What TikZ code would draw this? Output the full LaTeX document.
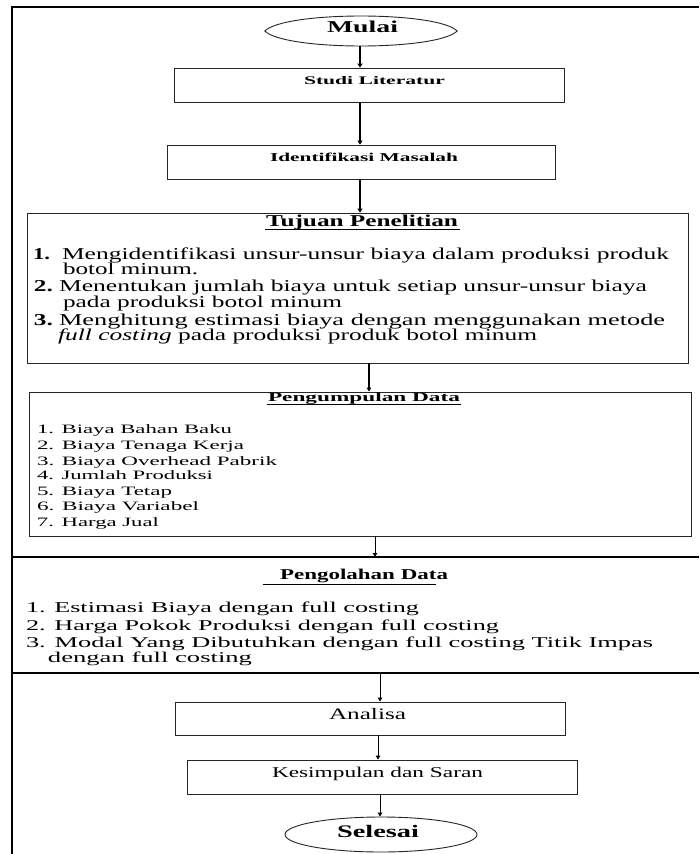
\documentclass[tikz,border=0pt]{standalone}
\usepackage{fontspec}
\setmainfont{Liberation Serif}
\usepackage{graphicx}
\usetikzlibrary{arrows.meta,shapes.geometric}
\newcommand{\sz}[3]{{\fontsize{#1pt}{#1pt}\selectfont\resizebox{#2pt}{\height}{#3}}}
\begin{document}
\begin{tikzpicture}[x=1pt,y=-1pt,
  boxs/.style={draw=black!85, line width=0.9pt, inner sep=0pt},
  ovals/.style={ellipse, draw=black!85, line width=0.9pt, inner sep=0pt},
  lemon/.style={draw=black!85, line width=0.9pt},
  txt/.style={anchor=base west, inner sep=0pt, outer sep=0pt},
  arrthick/.style={line width=2pt, -{Triangle[width=5pt,length=4pt]}},
  arrthin/.style={line width=1pt, -{Triangle[width=4.5pt,length=4pt]}},
  sepline/.style={line width=2.4pt},
  frameline/.style={line width=1.2pt},
  uline/.style={line width=1pt}]
\useasboundingbox (0,0) rectangle (699,854);
\fill[white] (0,0) rectangle (699,854);

% frame and separators
\coordinate (topL) at (11,7);
\coordinate (topR) at (699,7);
\coordinate (botL) at (12,854);
\coordinate (s1L) at (12,557);
\coordinate (s1R) at (699,557);
\coordinate (s2L) at (12,673);
\coordinate (s2R) at (699,673);
\draw[sepline] (topL) -- (topR);
\draw[frameline] (12,7) -- (botL);
\draw[sepline] (s1L) -- (s1R);
\draw[sepline] (s2L) -- (s2R);

% shapes
\node[minimum width=192pt, minimum height=30pt, inner sep=0pt] (mulai) at (361,31) {};
\draw[lemon] (mulai.west) .. controls (285,11) and (437,11) .. (mulai.east)
  .. controls (437,51) and (285,51) .. (mulai.west) -- cycle;
\node[boxs, minimum width=390pt, minimum height=34pt] (studi) at (369,85) {};
\node[boxs, minimum width=388pt, minimum height=34pt] (ident) at (361,162) {};
\node[boxs, minimum width=661pt, minimum height=150pt] (tujuan) at (357.5,288) {};
\node[boxs, minimum width=662pt, minimum height=144pt] (peng) at (360,464) {};
\node[boxs, minimum width=390pt, minimum height=33pt] (analisa) at (370.5,718.5) {};
\node[boxs, minimum width=390pt, minimum height=34pt] (kesimp) at (382,777) {};
\node[ovals, minimum width=192pt, minimum height=35pt] (selesai) at (381,834.5) {};

% texts
\node[txt] (mulaiT) at (327,32.5) {\sz{16.6}{71}{\textbf{Mulai}}};
\node[txt] (studiT) at (304,84) {\sz{11.6}{141}{\textbf{Studi Literatur}}};
\node[txt] (identT) at (270,161.5) {\sz{12}{188}{\textbf{Identifikasi Masalah}}};

\node[txt] (tujuanT) at (266,226.5) {\sz{16.6}{192}{\textbf{Tujuan Penelitian}}};
\draw[uline] (265,229) -- (460,229);
\node[txt] (tn1) at (33,259.3) {\sz{16.6}{17}{\textbf{1.}}};
\node[txt] (tl1) at (62,259.3) {\sz{16.6}{607}{Mengidentifikasi unsur-unsur biaya dalam produksi produk}};
\node[txt] (tl1b) at (63,274.5) {\sz{16.6}{135}{botol minum.}};
\node[txt] (tn2) at (34,291.7) {\sz{16.6}{19}{\textbf{2.}}};
\node[txt] (tl2) at (59,291.7) {\sz{16.6}{588}{Menentukan jumlah biaya untuk setiap unsur-unsur biaya}};
\node[txt] (tl2b) at (63,307.3) {\sz{16.6}{279}{pada produksi botol minum}};
\node[txt] (tn3) at (34,325) {\sz{16.6}{19}{\textbf{3.}}};
\node[txt] (tl3) at (59,325) {\sz{16.6}{606}{Menghitung estimasi biaya dengan menggunakan metode}};
\node[txt] (tl3b) at (58,340.5) {\sz{16.6}{479}{\textit{full costing} pada produksi produk botol minum}};

\node[txt] (pengT) at (268,401.7) {\sz{12.8}{192}{\textbf{Pengumpulan Data}}};
\draw[uline] (267,404) -- (461,404);
\node[txt] (p1) at (37,433.3) {\sz{12.8}{195}{1. Biaya Bahan Baku}};
\node[txt] (p2) at (37,449.3) {\sz{12.8}{207}{2. Biaya Tenaga Kerja}};
\node[txt] (p3) at (37,465) {\sz{12.8}{240}{3. Biaya Overhead Pabrik}};
\node[txt] (p4) at (37,479.8) {\sz{12.8}{176}{4. Jumlah Produksi}};
\node[txt] (p5) at (37,495) {\sz{12.8}{135}{5. Biaya Tetap}};
\node[txt] (p6) at (37,510.7) {\sz{12.8}{162}{6. Biaya Variabel}};
\node[txt] (p7) at (37,526) {\sz{12.8}{122}{7. Harga Jual}};

\node[txt] (olahT) at (280,579) {\sz{15}{168}{\textbf{Pengolahan Data}}};
\draw[uline] (263,584) -- (436,584);
\node[txt] (o1) at (26,612.3) {\sz{15}{393}{1. Estimasi Biaya dengan full costing}};
\node[txt] (o2) at (26,630) {\sz{15}{473}{2. Harga Pokok Produksi dengan full costing}};
\node[txt] (o3) at (26,647.3) {\sz{15}{627}{3. Modal Yang Dibutuhkan dengan full costing Titik Impas}};
\node[txt] (o3b) at (48,662.3) {\sz{15}{204}{dengan full costing}};

\node[txt] (analisaT) at (329,719.7) {\sz{16}{77}{Analisa}};
\node[txt] (kesimpT) at (272,777.3) {\sz{15}{211}{Kesimpulan dan Saran}};
\node[txt] (selesaiT) at (337,837.3) {\sz{17.6}{82}{\textbf{Selesai}}};

% connectors
\draw[arrthick] ([xshift=-1pt]mulai.south) -- ([xshift=-1pt]mulai.south |- studi.north);
\draw[arrthick] ([xshift=-9pt]studi.south) -- ([xshift=-9pt]studi.south |- ident.north);
\draw[arrthick] ([xshift=-1pt]ident.south) -- ([xshift=-1pt]ident.south |- tujuan.north);
\draw[arrthin, line width=1.3pt] ([xshift=11.5pt]tujuan.south) -- ([xshift=11.5pt]tujuan.south |- peng.north);
\coordinate (a1) at (375,557);
\draw[arrthin] (a1 |- peng.south) -- (a1);
\coordinate (a2) at (380,673);
\draw[arrthin] (a2) -- (a2 |- analisa.north);
\draw[arrthin] ([xshift=7.5pt]analisa.south) -- ([xshift=7.5pt]analisa.south |- kesimp.north);
\draw[arrthin] ([xshift=-2pt]kesimp.south) -- ([xshift=-2pt]kesimp.south |- selesai.north);
\end{tikzpicture}
\end{document}
